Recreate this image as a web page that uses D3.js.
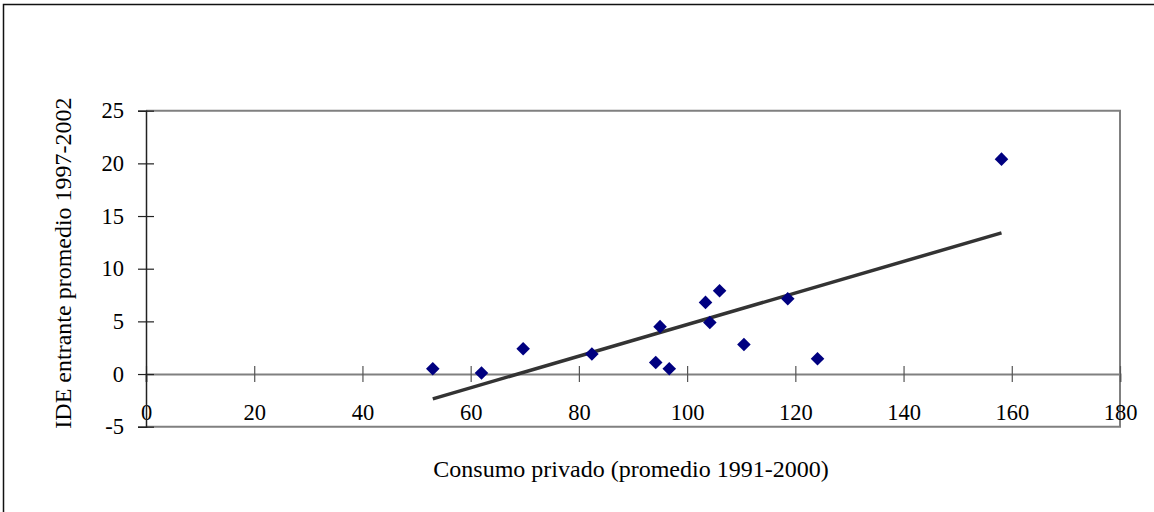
<!DOCTYPE html>
<html>
<head>
<meta charset="utf-8">
<script src="https://cdn.jsdelivr.net/npm/d3@7"></script>
<style>
  body { margin: 0; background: #fff; }
  text { font-family: "Liberation Serif", "Times New Roman", serif; fill: #000; }
</style>
</head>
<body>
<div id="chart"></div>
<script>
// consumo privado (promedio 1991-2000) vs IDE entrante promedio 1997-2002
var consumo = [53, 62, 69.7, 82.4, 94.2, 95, 96.7, 103.4, 104.2, 106, 110.5, 118.6, 124.1, 158.1];
var ide     = [0.5, 0.1, 2.4, 1.9, 1.1, 4.5, 0.5, 6.8, 4.9, 7.9, 2.8, 7.15, 1.45, 20.4];
var xTicks = [0, 20, 40, 60, 80, 100, 120, 140, 160, 180];
var yTicks = [-5, 0, 5, 10, 15, 20, 25];

var W = 1154, H = 512;
var margin = { top: 110.7, right: 34, bottom: 85.3, left: 146 },
    width = W - margin.left - margin.right,
    height = H - margin.top - margin.bottom;

var svg = d3.select("#chart").append("svg")
    .attr("width", W)
    .attr("height", H);

// outer frame (runs off the right / bottom edge)
svg.append("rect")
    .attr("x", 3.5).attr("y", 4.5)
    .attr("width", 1170).attr("height", 530)
    .attr("fill", "none").attr("stroke", "#111").attr("stroke-width", 1.5);

var g = svg.append("g")
    .attr("transform", "translate(" + margin.left + "," + margin.top + ")");

var x = d3.scaleLinear().domain([0, 180]).range([0, width]);
var y = d3.scaleLinear().domain([-5, 25]).range([height, 0]);

var data = consumo.map(function (c, i) { return { x: c, y: ide[i] }; });

// plot area border (top, right, bottom)
g.append("path")
    .attr("d", "M0," + y(25) + "H" + x(180) + "V" + y(-5) + "H0")
    .attr("fill", "none").attr("stroke", "#808080").attr("stroke-width", 2);

var fmt = function (d) { return String(d); };  // plain hyphen for -5

// x axis at y = 0
var xAxis = d3.axisBottom(x).tickValues(xTicks).tickSize(8).tickFormat(fmt);
var gx = g.append("g")
    .attr("transform", "translate(0," + y(0) + ")")
    .call(xAxis);
gx.select(".domain").attr("stroke", "#808080").attr("stroke-width", 2);
gx.selectAll(".tick line").attr("y1", -8).attr("stroke", "#555").attr("stroke-width", 1.2);
gx.selectAll(".tick text")
    .attr("y", 37.7).attr("dy", "0.35em")
    .style("font-size", "22.5px");

// y axis
var yAxis = d3.axisLeft(y).tickValues(yTicks).tickSize(8).tickPadding(14).tickFormat(fmt);
var gy = g.append("g").call(yAxis);
gy.select(".domain").attr("stroke", "#222").attr("stroke-width", 1.5);
gy.selectAll(".tick line").attr("x1", 8).attr("stroke", "#222").attr("stroke-width", 1.2);
gy.selectAll(".tick text").style("font-size", "22.5px");

// least squares trend line
var mx = d3.mean(data, function (d) { return d.x; }),
    my = d3.mean(data, function (d) { return d.y; });
var sxy = d3.sum(data, function (d) { return (d.x - mx) * (d.y - my); }),
    sxx = d3.sum(data, function (d) { return (d.x - mx) * (d.x - mx); });
var slope = sxy / sxx, icpt = my - slope * mx;
var ext = d3.extent(consumo);
var trend = ext.map(function (v) { return { x: v, y: icpt + slope * v }; });

g.append("path")
    .datum(trend)
    .attr("d", d3.line().x(function (d) { return x(d.x); }).y(function (d) { return y(d.y); }))
    .attr("stroke", "#333").attr("stroke-width", 3.5).attr("fill", "none");

// points
var sym = d3.symbol().type(d3.symbolSquare).size(92);
g.selectAll("path.pt")
    .data(data)
    .enter().append("path")
    .attr("class", "pt")
    .attr("d", sym)
    .attr("transform", function (d) { return "translate(" + x(d.x) + "," + y(d.y) + ") rotate(45)"; })
    .attr("fill", "#000080");

// axis titles
svg.append("text")
    .attr("x", margin.left + width / 2 - 2)
    .attr("y", 477)
    .attr("text-anchor", "middle")
    .style("font-size", "24px")
    .text("Consumo privado (promedio 1991-2000)");

svg.append("text")
    .attr("transform", "translate(71,263) rotate(-90)")
    .attr("text-anchor", "middle")
    .style("font-size", "24px")
    .text("IDE entrante promedio 1997-2002");
</script>
</body>
</html>
